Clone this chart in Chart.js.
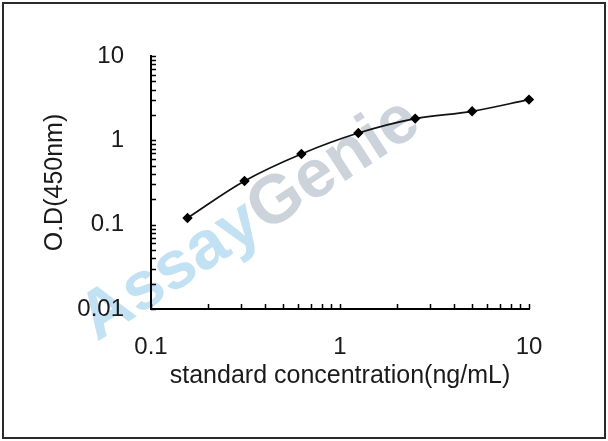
<!DOCTYPE html>
<html>
<head>
<meta charset="utf-8">
<script src="https://cdn.jsdelivr.net/npm/chart.js@4"></script>
<style>
  html, body { margin: 0; padding: 0; background: #fff; }
  #chart { display: block; }
</style>
</head>
<body>
<canvas id="chart" width="608" height="441"></canvas>
<script>
// standard curve data
const concentration = [0.156, 0.3125, 0.625, 1.25, 2.5, 5, 10];
const odValues = [0.12, 0.33, 0.69, 1.22, 1.81, 2.21, 3.04];
const xTickValues = [0.1, 1, 10];
const yTickValues = [0.01, 0.1, 1, 10];

const FONT = "'Liberation Sans', Arial, sans-serif";

// watermark behind everything
const watermark = {
    id: 'watermark',
    beforeDraw(chart) {
        const ctx = chart.ctx;
        ctx.save();
        ctx.translate(97, 342);
        ctx.rotate(-33 * Math.PI / 180);
        ctx.font = "bold 68px " + FONT;
        ctx.textBaseline = 'alphabetic';
        ctx.fillStyle = '#c2e1f3';
        ctx.fillText('Assay', 0, 0);
        const w = ctx.measureText('Assay').width;
        ctx.fillStyle = '#ccd3db';
        ctx.fillText('Genie', w, 0);
        ctx.restore();
    }
};

// inward minor/major tick marks + frame around the picture
const ticksAndFrame = {
    id: 'ticksAndFrame',
    afterDraw(chart) {
        const ctx = chart.ctx;
        const xs = chart.scales.x, ys = chart.scales.y;
        const area = chart.chartArea;
        ctx.save();
        ctx.strokeStyle = '#000';
        ctx.lineWidth = 1.5;
        ctx.beginPath();
        for (let d = 0.01; d < 10; d *= 10) {
            for (let k = 1; k <= 9; k++) {
                const v = d * k;
                if (v >= ys.min && v <= ys.max) {
                    const py = Math.round(ys.getPixelForValue(v)) + 0.5;
                    ctx.moveTo(area.left, py);
                    ctx.lineTo(area.left + 5, py);
                }
                if (v >= xs.min && v <= xs.max) {
                    const px = Math.round(xs.getPixelForValue(v)) + 0.5;
                    ctx.moveTo(px, area.bottom);
                    ctx.lineTo(px, area.bottom - 5);
                }
            }
        }
        const top = ys.getPixelForValue(10);
        ctx.moveTo(area.left, Math.round(top) + 0.5);
        ctx.lineTo(area.left + 5, Math.round(top) + 0.5);
        const right = xs.getPixelForValue(10);
        ctx.moveTo(Math.round(right) + 0.5, area.bottom);
        ctx.lineTo(Math.round(right) + 0.5, area.bottom - 5);
        ctx.stroke();

        ctx.strokeStyle = '#2a2a2a';
        ctx.lineWidth = 2;
        ctx.strokeRect(3, 3, 602, 435);
        ctx.restore();
    }
};

new Chart(document.getElementById('chart'), {
    type: 'scatter',
    data: {
        datasets: [{
            label: 'OD',
            data: concentration.map((c, i) => ({ x: c, y: odValues[i] })),
            showLine: true,
            tension: 0.35,
            borderColor: '#111',
            borderWidth: 1.7,
            pointStyle: 'rectRot',
            pointRadius: 4,
            pointBackgroundColor: '#000',
            pointBorderColor: '#000',
            clip: false
        }]
    },
    options: {
        responsive: false,
        animation: false,
        devicePixelRatio: 1,
        layout: { padding: { top: 56, right: 79, bottom: 0, left: 0 } },
        plugins: {
            legend: { display: false },
            tooltip: { enabled: false }
        },
        scales: {
            x: {
                type: 'logarithmic',
                min: 0.1,
                max: 10,
                afterBuildTicks: axis => { axis.ticks = xTickValues.map(v => ({ value: v })); },
                afterFit: axis => { axis.height = 132; },
                grid: { display: true, drawOnChartArea: false, drawTicks: false },
                border: { display: true, color: '#000', width: 2 },
                ticks: {
                    padding: 24,
                    color: '#1a1a1a',
                    font: { family: FONT, size: 24 },
                    maxRotation: 0,
                    autoSkip: false,
                    callback: v => String(v)
                },
                title: {
                    display: true,
                    text: 'standard concentration(ng/mL)',
                    color: '#1a1a1a',
                    font: { family: FONT, size: 25 },
                    padding: { top: 0, bottom: 50 }
                }
            },
            y: {
                type: 'logarithmic',
                min: 0.01,
                max: 10,
                afterBuildTicks: axis => { axis.ticks = yTickValues.map(v => ({ value: v })); },
                afterFit: axis => { axis.width = 151; },
                grid: { display: true, drawOnChartArea: false, drawTicks: false },
                border: { display: true, color: '#000', width: 2 },
                ticks: {
                    padding: 27,
                    color: '#1a1a1a',
                    font: { family: FONT, size: 24 },
                    autoSkip: false,
                    callback: v => String(v)
                },
                title: {
                    display: true,
                    text: 'O.D(450nm)',
                    color: '#1a1a1a',
                    font: { family: FONT, size: 25 },
                    padding: { top: 40, bottom: 0 }
                }
            }
        }
    },
    plugins: [watermark, ticksAndFrame]
});
</script>
</body>
</html>
